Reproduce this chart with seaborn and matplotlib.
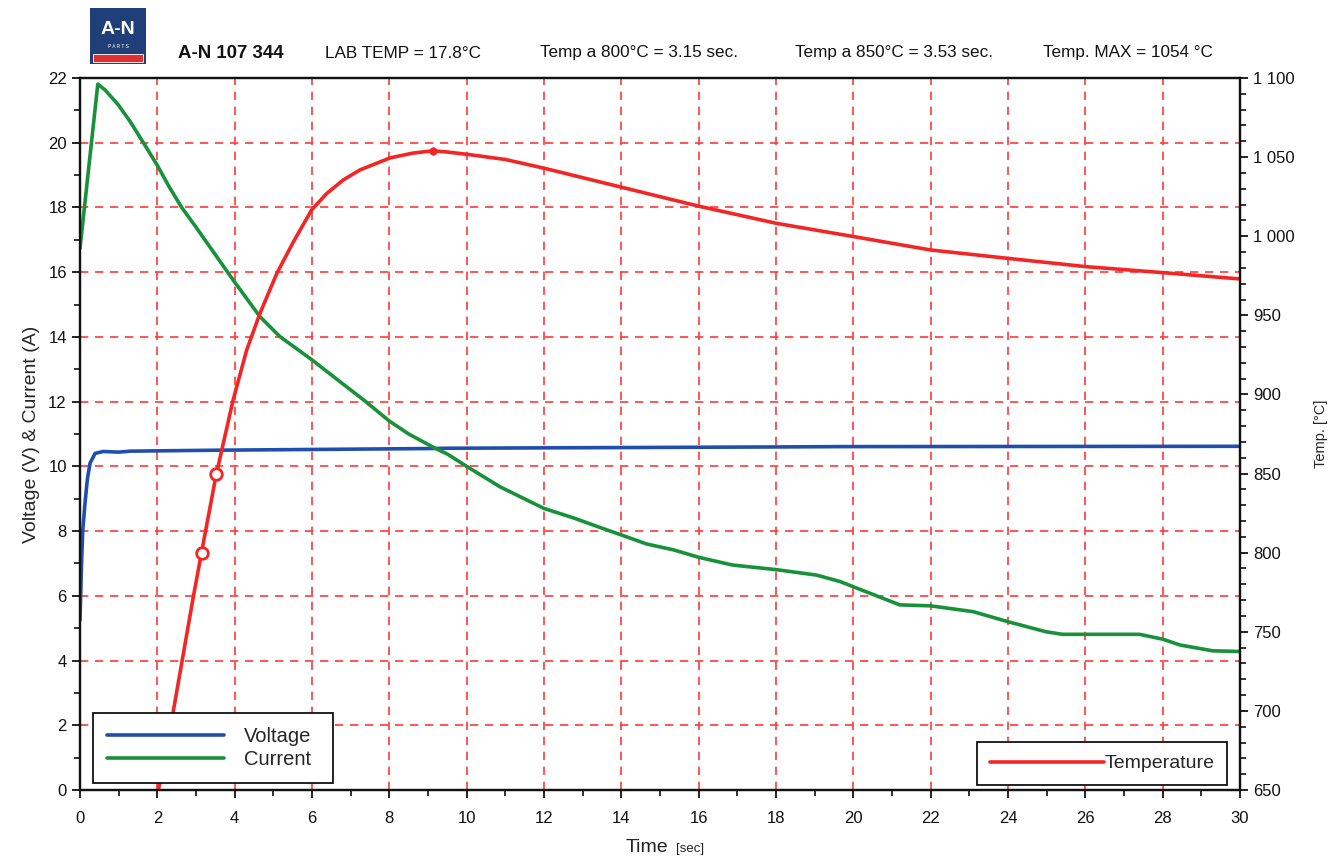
import numpy as np
import pandas as pd
import matplotlib
matplotlib.use("Agg")
import matplotlib.pyplot as plt
import seaborn as sns
from matplotlib.patches import Rectangle
from matplotlib.lines import Line2D
from matplotlib.ticker import MultipleLocator, FuncFormatter

# ---------------- data ----------------
time_v = [0, 0.04, 0.07, 0.13, 0.19, 0.26, 0.39, 0.6, 1.0, 1.3, 3.6, 9.0, 9.5, 18.0, 19.7, 30.0]
voltage = [5.25, 7.0, 8.0, 8.87, 9.6, 10.1, 10.4, 10.46, 10.44, 10.47, 10.5, 10.55, 10.56, 10.6, 10.61, 10.62]

time_c = [0, 0.46, 0.65, 0.99, 1.3, 1.64, 2.0, 2.3, 2.63, 2.97, 3.3, 3.96, 4.65, 5.17, 6.0, 6.72, 7.37, 8.0, 8.5,
          9.2, 9.5, 10.0, 10.86, 12.0, 12.78, 13.64, 14.0, 14.66, 15.35, 16.0, 16.88, 18.0, 19.05,
          19.66, 20.0, 21.2, 22.0, 23.1, 24.0, 24.98, 25.41, 27.4, 28.0, 28.45, 29.3, 30.0]
current = [16.74, 21.81, 21.63, 21.17, 20.65, 20.0, 19.3, 18.65, 18.0, 17.44, 16.88, 15.76, 14.63, 14.01, 13.29, 12.62,
           12.02, 11.4, 11.0, 10.55, 10.38, 10.0, 9.37, 8.70, 8.40, 8.03, 7.88, 7.60, 7.42, 7.19, 6.95, 6.81, 6.64,
           6.44, 6.28, 5.72, 5.69, 5.51, 5.20, 4.89, 4.81, 4.81, 4.66, 4.48, 4.30, 4.28]

time_t = [1.95, 2.4, 2.93, 3.15, 3.52, 3.96, 4.31, 4.65, 5.09, 5.52, 5.99, 6.38, 6.81, 7.24, 8.02, 8.6,
          9.13, 9.5, 10.0, 11.0, 12.0, 13.0, 14.0, 15.0, 16.0, 18.0, 20.0, 22.0, 24.0, 26.0, 28.0, 30.0]
temperature = [640, 698, 772, 801, 849, 896.5, 928, 951, 976.5, 996.5, 1016.6, 1027, 1035.6, 1041.9, 1049.5, 1052.5,
               1054, 1053.2, 1051.8, 1048.5, 1043, 1037, 1031, 1025, 1019, 1008.2, 999.8, 991.3, 986, 980.8, 977, 973]

mark_t = [3.15, 3.53]
mark_temp = [800, 850]
max_t = [9.13]
max_temp = [1054]

header_texts = ["LAB TEMP = 17.8°C", "Temp a 800°C = 3.15 sec.",
                "Temp a 850°C = 3.53 sec.", "Temp. MAX = 1054 °C"]

# ---------------- style ----------------
sns.set_style("ticks")
plt.rcParams['font.family'] = ['Liberation Sans', 'DejaVu Sans']

C_BLUE = "#1f4fae"
C_GREEN = "#17913a"
C_RED = "#f42525"
GRID_RED = "#ff3a3a"

fig = plt.figure(figsize=(13.38, 8.57), dpi=100)
ax = fig.add_axes([80 / 1338, 1 - 790 / 857, 1160 / 1338, 712 / 857])
ax2 = ax.twinx()

df_v = pd.DataFrame({"t": time_v, "y": voltage})
df_c = pd.DataFrame({"t": time_c, "y": current})
df_t = pd.DataFrame({"t": time_t, "y": temperature})

sns.lineplot(data=df_v, x="t", y="y", ax=ax, color=C_BLUE, lw=2.6, sort=False)
sns.lineplot(data=df_c, x="t", y="y", ax=ax, color=C_GREEN, lw=2.6, sort=False)
sns.lineplot(data=df_t, x="t", y="y", ax=ax2, color=C_RED, lw=2.6, sort=False)
sns.scatterplot(x=mark_t, y=mark_temp, ax=ax2, s=70, facecolor="white", edgecolor=C_RED, linewidth=2, zorder=5)
sns.scatterplot(x=max_t, y=max_temp, ax=ax2, s=30, color=C_RED, edgecolor=C_RED, zorder=5)

# axes limits & ticks
ax.set_xlim(0, 30)
ax.set_ylim(0, 22)
ax2.set_ylim(650, 1100)
ax.xaxis.set_major_locator(MultipleLocator(2))
ax.xaxis.set_minor_locator(MultipleLocator(1))
ax.yaxis.set_major_locator(MultipleLocator(2))
ax.yaxis.set_minor_locator(MultipleLocator(1))
ax2.yaxis.set_major_locator(MultipleLocator(50))
ax2.yaxis.set_minor_locator(MultipleLocator(10))
ax2.yaxis.set_major_formatter(FuncFormatter(lambda v, p: f"{int(v):,}".replace(",", " ")))

for a in (ax, ax2):
    a.tick_params(which="major", direction="out", length=6, width=1.3, labelsize=12, colors="#111111")
    a.tick_params(which="minor", direction="out", length=4, width=1.2, colors="#111111")
    for s in a.spines.values():
        s.set_visible(True)
        s.set_linewidth(1.6)
        s.set_color("#111111")
ax.tick_params(axis="x", pad=9)

ax.grid(False)
ax2.grid(False)
for xv in range(2, 30, 2):
    ax.axvline(xv, color=GRID_RED, lw=1.2, ls=(0, (5, 4)), zorder=0)
for yv in range(2, 22, 2):
    ax.axhline(yv, color=GRID_RED, lw=1.2, ls=(0, (5, 4)), zorder=0)

ax.set_xlabel("")
ax.set_ylabel("Voltage (V) & Current (A)", fontsize=14, labelpad=6)
ax2.set_ylabel("Temp. [°C]", fontsize=10.5, labelpad=14)

fig.text(668 / 1338, 1 - 848 / 857, "Time", fontsize=14, ha="right", va="center", color="#222222")
fig.text(676 / 1338, 1 - 849 / 857, "[sec]", fontsize=9.5, ha="left", va="center", color="#222222")

# legends
h1 = [Line2D([], [], color=C_BLUE, lw=2.6), Line2D([], [], color=C_GREEN, lw=2.6)]
leg1 = ax2.legend(h1, ["Voltage", "Current"], loc="lower left",
                  bbox_to_anchor=(13 / 1160, 7 / 712, 240 / 1160, 69 / 712), mode="expand",
                  fontsize=14.5, handlelength=5.8, handletextpad=1.0, labelspacing=0.2,
                  borderpad=0.7, borderaxespad=0, fancybox=False, framealpha=1, edgecolor="#111111")
leg1.get_frame().set_linewidth(1.3)
ax2.add_artist(leg1)
h2 = [Line2D([], [], color=C_RED, lw=2.6)]
leg2 = ax2.legend(h2, ["Temperature"], loc="lower right", bbox_to_anchor=(0.9888, 0.007),
                  fontsize=14.0, handlelength=5.9, handletextpad=0.0, borderpad=0.65, borderaxespad=0,
                  fancybox=False, framealpha=1, edgecolor="#111111")
leg2.get_frame().set_linewidth(1.3)

# header logo
fig.add_artist(Rectangle((90 / 1338, 1 - 64 / 857), 56 / 1338, 56 / 857,
                         transform=fig.transFigure, facecolor="#203f78", edgecolor="none"))
fig.add_artist(Rectangle((93 / 1338, 1 - 62 / 857), 50 / 1338, 8 / 857,
                         transform=fig.transFigure, facecolor="#e03030", edgecolor="white", lw=0.6))
fig.text(118 / 1338, 1 - 30 / 857, "A-N", fontsize=14, fontweight="bold", color="white",
         ha="center", va="center")
fig.text(118 / 1338, 1 - 46 / 857, "P A R T S", fontsize=3.5, color="white", ha="center", va="center")

fig.text(178 / 1338, 1 - 53 / 857, "A-N 107 344", fontsize=13.4, fontweight="bold", color="#111111",
         ha="left", va="center")
for xp, txt in zip([325, 540, 795, 1043], header_texts):
    fig.text(xp / 1338, 1 - 53 / 857, txt, fontsize=12.3, color="#111111", ha="left", va="center")

fig.savefig("out.png", dpi=100)
